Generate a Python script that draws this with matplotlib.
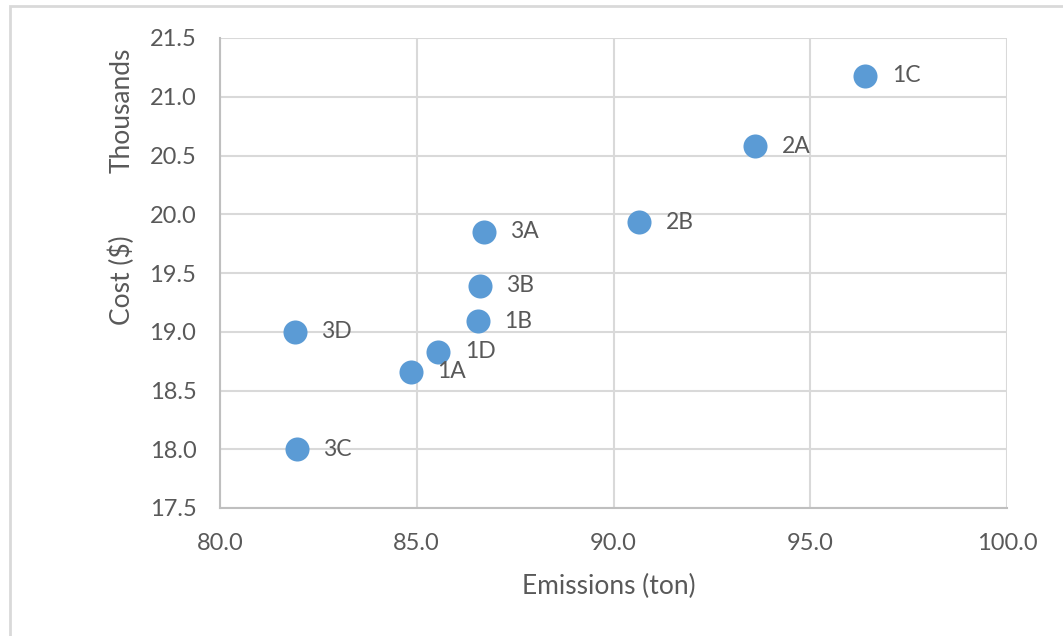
import matplotlib.pyplot as plt
from matplotlib.patches import Rectangle

# emissions (ton) and cost ($) per option
labels = ["1A", "1B", "1C", "1D", "2A", "2B", "3A", "3B", "3C", "3D"]
emissions = [84.85, 86.55, 96.4, 85.55, 93.6, 90.65, 86.7, 86.6, 81.95, 81.9]
cost = [18660, 19090, 21180, 18830, 20580, 19930, 19850, 19390, 18000, 19000]

plt.rcParams['font.family'] = ['Lato', 'DejaVu Sans']
textcol = "#595959"

fig = plt.figure(figsize=(10.63, 6.36), dpi=100)
ax = fig.add_axes([220/1063, 1 - 508/636, (1007-220)/1063, (508-38)/636])

# outer chart border
fig.patches.append(Rectangle((10/1063, -0.05), 1.1, 1.05 - 6/636,
                             transform=fig.transFigure, fill=False,
                             edgecolor="#d9d9d9", linewidth=2))

cost_k = [c / 1000 for c in cost]
ax.scatter(emissions, cost_k, s=300, color="#5b9bd5", zorder=3, linewidths=0)
for lab, x, y in zip(labels, emissions, cost_k):
    ax.annotate(lab, (x, y), xytext=(19, 0), textcoords="offset points",
                va="center", ha="left", fontsize=16.5, color=textcol)

ax.set_xlim(80, 100)
ax.set_ylim(17.5, 21.5)
ax.set_xticks([80, 85, 90, 95, 100])
ax.set_yticks([17.5, 18, 18.5, 19, 19.5, 20, 20.5, 21, 21.5])
ax.xaxis.set_major_formatter(lambda v, p: f"{v:.1f}")
ax.yaxis.set_major_formatter(lambda v, p: f"{v:.1f}")
ax.grid(True, color="#d9d9d9", linewidth=1.5)
ax.set_axisbelow(True)
for side in ["top", "right"]:
    ax.spines[side].set_visible(False)
for side in ["left", "bottom"]:
    ax.spines[side].set_color("#bfbfbf")
    ax.spines[side].set_linewidth(1.5)
ax.tick_params(length=0, labelsize=17, labelcolor=textcol)
ax.tick_params(axis="y", pad=17)
ax.tick_params(axis="x", pad=18)

fig.text(609/1063, 1 - 586/636, "Emissions (ton)", fontsize=19,
         color=textcol, ha="center", va="center")
fig.text(122/1063, 1 - 280/636, "Cost ($)", rotation=90, fontsize=19,
         color=textcol, ha="center", va="center")
fig.text(122/1063, 1 - 110/636, "Thousands", rotation=90, fontsize=19,
         color=textcol, ha="center", va="center")

fig.savefig("out.png", dpi=100)
